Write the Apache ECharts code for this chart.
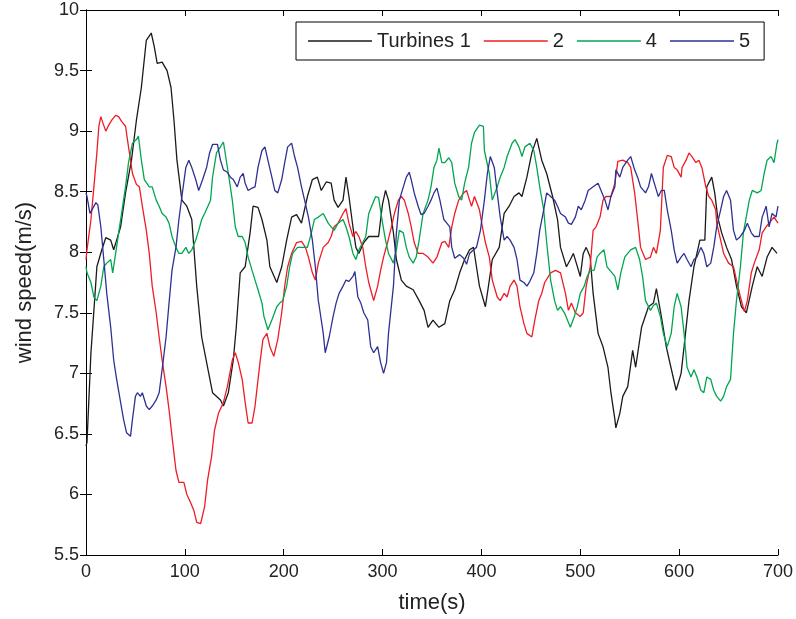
<!DOCTYPE html>
<html><head><meta charset="utf-8">
<script src="https://cdn.jsdelivr.net/npm/echarts@6/dist/echarts.min.js"></script>
<style>html,body{margin:0;padding:0;background:#fff}#c{width:796px;height:619px}</style>
</head><body><div id="c"></div>
<script>
const seriesNames = ['Turbines 1', '2', '4', '5'];
const xTicks = [0, 100, 200, 300, 400, 500, 600, 700];
const yTicks = [5.5, 6, 6.5, 7, 7.5, 8, 8.5, 9, 9.5, 10];

const turbine1 = [[0,6.4],[1,6.43],[5,7.17],[8,7.52],[11,7.88],[16,8.02],[20,8.12],[25,8.1],[28,8.02],[31,8.1],[35,8.21],[40,8.49],[46,8.76],[51,9.09],[56,9.36],[61,9.75],[66,9.81],[69,9.7],[72,9.56],[77,9.57],[82,9.5],[86,9.36],[89,9.09],[92,8.76],[97,8.43],[102,8.38],[107,8.27],[112,7.72],[117,7.3],[122,7.09],[128,6.84],[136,6.78],[139,6.73],[144,6.84],[149,7.11],[152,7.38],[156,7.83],[161,7.88],[166,8.16],[169,8.38],[174,8.37],[178,8.27],[183,8.1],[186,7.88],[193,7.75],[198,7.88],[203,8.1],[208,8.29],[213,8.31],[218,8.24],[224,8.46],[229,8.6],[234,8.62],[238,8.51],[243,8.58],[248,8.57],[251,8.43],[255,8.37],[260,8.43],[263,8.62],[266,8.46],[270,8.21],[273,8.04],[276,7.99],[281,8.08],[286,8.13],[291,8.13],[296,8.13],[300,8.4],[303,8.51],[306,8.43],[311,8.16],[314,7.94],[319,7.77],[324,7.72],[331,7.69],[337,7.6],[342,7.52],[346,7.38],[351,7.44],[357,7.38],[363,7.41],[368,7.6],[373,7.69],[378,7.83],[383,7.94],[388,8.02],[392,8.04],[395,7.88],[398,7.72],[404,7.55],[408,7.77],[411,7.94],[418,8.04],[423,8.32],[428,8.38],[433,8.46],[438,8.49],[441,8.46],[446,8.62],[451,8.82],[456,8.94],[461,8.76],[466,8.65],[472,8.46],[477,8.27],[480,8.04],[486,7.88],[490,7.94],[493,7.99],[496,7.91],[500,7.8],[503,7.99],[506,8.04],[510,7.96],[513,7.66],[518,7.33],[523,7.22],[528,7.05],[531,6.84],[535,6.62],[536,6.55],[540,6.67],[543,6.81],[548,6.89],[553,7.19],[556,7.05],[562,7.38],[569,7.55],[574,7.58],[577,7.7],[582,7.47],[587,7.22],[590,7.11],[597,6.86],[602,7.0],[605,7.22],[610,7.6],[615,7.88],[621,8.1],[626,8.1],[628,8.54],[633,8.62],[636,8.49],[639,8.29],[643,8.16],[648,8.04],[653,7.94],[658,7.72],[663,7.55],[668,7.5],[674,7.72],[679,7.88],[684,7.8],[689,7.96],[694,8.04],[699,7.99]];

const turbine2 = [[0,7.94],[1,8.02],[5,8.27],[8,8.54],[11,8.82],[13,9.04],[15,9.12],[17,9.07],[20,9.0],[23,9.05],[26,9.09],[30,9.13],[33,9.12],[36,9.08],[40,9.04],[43,8.87],[47,8.65],[51,8.56],[54,8.54],[57,8.38],[61,8.18],[64,7.99],[67,7.72],[71,7.5],[74,7.3],[77,7.11],[81,6.89],[84,6.7],[87,6.48],[91,6.2],[94,6.1],[99,6.1],[102,6.0],[106,5.93],[109,5.87],[112,5.77],[116,5.76],[120,5.9],[123,6.12],[127,6.31],[130,6.53],[134,6.67],[139,6.76],[143,6.89],[148,7.11],[151,7.17],[154,7.09],[158,6.95],[161,6.76],[164,6.59],[168,6.59],[171,6.73],[176,7.09],[179,7.28],[183,7.33],[186,7.22],[190,7.14],[194,7.28],[198,7.5],[201,7.72],[204,7.88],[208,7.99],[213,8.08],[218,8.09],[222,8.04],[225,7.96],[229,7.83],[232,7.77],[235,7.91],[240,8.04],[245,8.08],[248,8.13],[251,8.21],[255,8.24],[260,8.32],[263,8.36],[266,8.24],[270,8.13],[273,8.17],[276,8.13],[280,8.04],[283,7.88],[286,7.75],[291,7.6],[295,7.72],[298,7.85],[301,7.96],[305,8.08],[309,8.21],[312,8.32],[316,8.43],[319,8.46],[322,8.43],[326,8.32],[329,8.21],[332,8.08],[336,7.99],[341,7.99],[346,7.96],[351,7.91],[355,7.96],[360,8.08],[363,8.09],[367,8.04],[370,8.21],[373,8.32],[377,8.43],[382,8.49],[385,8.51],[388,8.43],[390,8.38],[393,8.46],[398,8.35],[401,8.21],[404,8.08],[408,7.96],[411,7.77],[416,7.63],[419,7.6],[423,7.66],[426,7.63],[429,7.72],[433,7.77],[436,7.72],[439,7.55],[443,7.41],[446,7.33],[451,7.3],[454,7.44],[458,7.6],[461,7.66],[464,7.75],[470,7.83],[475,7.85],[480,7.83],[485,7.66],[488,7.52],[491,7.58],[495,7.5],[500,7.47],[503,7.5],[506,7.72],[510,7.88],[513,8.18],[516,8.21],[520,8.29],[523,8.43],[526,8.46],[531,8.46],[535,8.57],[538,8.75],[543,8.76],[548,8.74],[551,8.7],[555,8.49],[558,8.27],[561,8.04],[566,7.94],[571,7.96],[574,8.04],[577,7.99],[581,8.18],[584,8.7],[588,8.8],[592,8.79],[595,8.7],[598,8.68],[602,8.62],[603,8.7],[607,8.76],[610,8.82],[613,8.79],[617,8.74],[620,8.76],[623,8.7],[627,8.54],[630,8.46],[633,8.43],[637,8.35],[638,8.24],[642,8.1],[645,7.99],[650,7.91],[655,7.88],[658,7.77],[662,7.63],[666,7.51],[669,7.6],[673,7.83],[676,7.91],[681,8.02],[684,8.16],[688,8.21],[691,8.24],[696,8.29],[700,8.24]];

const turbine4 = [[0,7.88],[1,7.83],[5,7.75],[8,7.63],[11,7.6],[15,7.72],[18,7.88],[21,7.91],[25,7.94],[27,7.83],[30,7.99],[33,8.16],[36,8.32],[40,8.54],[43,8.74],[47,8.9],[51,8.93],[53,8.96],[56,8.76],[59,8.6],[64,8.54],[67,8.54],[71,8.43],[74,8.38],[77,8.32],[81,8.29],[84,8.24],[87,8.13],[91,8.04],[94,7.99],[97,7.99],[101,8.04],[104,7.99],[107,8.02],[111,8.1],[114,8.18],[117,8.27],[120,8.32],[126,8.43],[128,8.62],[132,8.82],[136,8.87],[139,8.91],[144,8.65],[148,8.43],[151,8.21],[154,8.13],[158,8.13],[161,8.08],[164,7.96],[168,7.85],[171,7.77],[174,7.69],[178,7.58],[180,7.47],[184,7.36],[188,7.44],[193,7.55],[196,7.58],[199,7.6],[203,7.72],[206,7.88],[209,7.99],[214,8.04],[219,8.04],[224,8.04],[228,8.16],[231,8.27],[235,8.29],[240,8.32],[245,8.24],[248,8.21],[251,8.18],[255,8.24],[260,8.27],[263,8.21],[266,8.13],[270,7.99],[273,7.94],[276,8.02],[280,8.08],[283,8.13],[286,8.32],[290,8.4],[293,8.46],[296,8.45],[300,8.24],[303,8.1],[306,7.99],[311,7.91],[314,8.02],[317,8.18],[321,8.16],[324,8.04],[327,7.96],[331,7.91],[334,7.96],[337,8.1],[341,8.32],[346,8.43],[349,8.54],[352,8.7],[355,8.76],[357,8.86],[360,8.74],[363,8.74],[367,8.78],[370,8.74],[373,8.57],[377,8.46],[380,8.43],[383,8.57],[387,8.7],[390,8.9],[393,8.99],[398,9.05],[402,9.04],[403,8.84],[408,8.65],[411,8.43],[416,8.54],[419,8.62],[423,8.7],[426,8.79],[431,8.9],[434,8.93],[438,8.87],[441,8.79],[444,8.87],[449,8.9],[453,8.84],[456,8.7],[459,8.54],[463,8.35],[466,8.08],[470,7.77],[474,7.6],[477,7.52],[480,7.55],[484,7.5],[487,7.44],[490,7.38],[494,7.47],[497,7.55],[500,7.66],[504,7.72],[507,7.8],[510,7.85],[514,7.85],[517,7.96],[520,7.99],[524,8.02],[527,7.88],[530,7.85],[535,7.8],[538,7.69],[541,7.83],[545,7.96],[548,7.99],[551,8.02],[556,8.04],[560,7.94],[563,7.8],[566,7.6],[571,7.52],[574,7.56],[577,7.58],[581,7.47],[584,7.33],[588,7.22],[592,7.33],[595,7.55],[598,7.66],[602,7.55],[605,7.33],[608,7.05],[612,6.97],[615,7.03],[618,6.97],[622,6.86],[625,6.84],[628,6.97],[632,6.95],[635,6.86],[638,6.81],[642,6.77],[645,6.81],[648,6.89],[652,6.95],[655,7.33],[658,7.6],[662,7.88],[665,8.16],[671,8.43],[674,8.51],[679,8.49],[683,8.51],[686,8.65],[689,8.76],[693,8.79],[696,8.74],[699,8.9],[700,8.93]];

const turbine5 = [[0,8.49],[1,8.46],[4,8.32],[6,8.35],[10,8.41],[12,8.39],[15,8.21],[18,7.94],[21,7.66],[25,7.38],[28,7.11],[31,6.95],[35,6.76],[38,6.62],[41,6.51],[45,6.48],[47,6.62],[50,6.81],[52,6.84],[55,6.81],[57,6.84],[61,6.73],[64,6.7],[67,6.73],[71,6.78],[74,6.84],[77,7.03],[81,7.3],[84,7.58],[87,7.85],[91,8.04],[94,8.27],[97,8.46],[101,8.7],[104,8.76],[107,8.7],[111,8.6],[114,8.51],[118,8.6],[122,8.7],[125,8.82],[128,8.89],[133,8.89],[136,8.76],[139,8.68],[143,8.66],[146,8.62],[149,8.6],[153,8.54],[156,8.62],[159,8.65],[161,8.57],[164,8.51],[168,8.53],[171,8.54],[174,8.7],[178,8.84],[181,8.87],[184,8.76],[188,8.62],[191,8.51],[194,8.49],[198,8.6],[201,8.74],[204,8.87],[208,8.9],[211,8.79],[214,8.7],[218,8.54],[222,8.4],[225,8.29],[229,8.1],[232,7.88],[235,7.6],[236,7.55],[240,7.33],[242,7.17],[246,7.3],[250,7.47],[253,7.58],[256,7.66],[260,7.72],[263,7.77],[266,7.76],[270,7.8],[272,7.84],[275,7.63],[278,7.58],[281,7.5],[285,7.44],[288,7.22],[291,7.17],[295,7.22],[298,7.09],[301,7.0],[304,7.09],[306,7.33],[311,7.72],[314,8.16],[317,8.43],[321,8.54],[324,8.62],[327,8.66],[329,8.6],[332,8.49],[336,8.38],[339,8.31],[342,8.32],[346,8.38],[349,8.43],[352,8.49],[355,8.53],[358,8.43],[362,8.27],[365,8.24],[368,8.21],[370,8.04],[373,7.95],[378,7.98],[382,7.95],[385,7.9],[388,7.99],[392,8.02],[395,8.04],[399,8.18],[403,8.43],[406,8.65],[409,8.79],[413,8.7],[416,8.49],[419,8.29],[423,8.1],[426,8.13],[429,8.1],[433,8.04],[436,7.94],[439,7.77],[443,7.75],[446,7.72],[449,7.76],[453,7.83],[456,7.99],[459,8.18],[463,8.35],[466,8.49],[470,8.46],[474,8.43],[477,8.38],[480,8.32],[485,8.29],[488,8.24],[491,8.23],[495,8.29],[498,8.38],[501,8.35],[505,8.43],[508,8.51],[513,8.54],[518,8.57],[521,8.51],[525,8.43],[528,8.35],[531,8.46],[535,8.54],[536,8.68],[540,8.62],[543,8.7],[548,8.76],[551,8.79],[555,8.68],[558,8.62],[561,8.54],[566,8.49],[569,8.54],[572,8.65],[576,8.54],[579,8.46],[582,8.51],[585,8.51],[588,8.35],[592,8.18],[595,8.02],[598,7.91],[602,7.96],[605,7.99],[608,7.94],[612,7.88],[615,7.94],[618,7.96],[622,8.04],[625,7.99],[628,7.88],[632,7.91],[635,8.04],[638,8.21],[642,8.35],[645,8.46],[648,8.51],[652,8.43],[655,8.18],[658,8.1],[662,8.13],[666,8.18],[669,8.24],[673,8.16],[676,8.13],[681,8.13],[684,8.29],[688,8.38],[691,8.21],[694,8.32],[698,8.29],[700,8.38]];

const colors = ['#1a1a1a', '#ee1c25', '#00a650', '#2e3192'];
const allData = [turbine1, turbine2, turbine4, turbine5];

const FONT = 'Liberation Sans, Arial, Helvetica, sans-serif';
const chart = echarts.init(document.getElementById('c'), null, {renderer: 'canvas'});

const baseAxisLine = {show: true, lineStyle: {color: '#000', width: 1}};
const tick = {show: true, inside: true, length: 6, lineStyle: {color: '#000', width: 1}};

chart.setOption({
  animation: false,
  backgroundColor: '#fff',
  color: colors,
  grid: {left: 86, right: 18, top: 10, bottom: 63, containLabel: false},
  legend: {
    data: seriesNames,
    left: 296, top: 22,
    padding: [9, 14, 9, 12],
    itemGap: 13,
    itemWidth: 64, itemHeight: 1.5,
    icon: 'rect',
    borderColor: '#000', borderWidth: 1,
    backgroundColor: '#fff',
    textStyle: {fontFamily: FONT, fontSize: 20, color: '#222'}
  },
  xAxis: [{
    type: 'value', min: xTicks[0], max: xTicks[xTicks.length - 1], interval: 100,
    position: 'bottom',
    axisLine: baseAxisLine, axisTick: tick, splitLine: {show: false},
    axisLabel: {fontFamily: FONT, fontSize: 18, color: '#222', margin: 8},
    name: 'time(s)', nameLocation: 'middle', nameGap: 37,
    nameTextStyle: {fontFamily: FONT, fontSize: 22, color: '#222'}
  }, {
    type: 'value', min: xTicks[0], max: xTicks[xTicks.length - 1], interval: 100,
    position: 'top',
    axisLine: baseAxisLine, axisTick: tick, splitLine: {show: false},
    axisLabel: {show: false}
  }],
  yAxis: [{
    type: 'value', min: yTicks[0], max: yTicks[yTicks.length - 1], interval: 0.5,
    position: 'left',
    axisLine: baseAxisLine, axisTick: tick, splitLine: {show: false},
    axisLabel: {fontFamily: FONT, fontSize: 18, color: '#222', margin: 7},
    name: 'wind speed(m/s)', nameLocation: 'middle', nameGap: 50,
    nameTextStyle: {fontFamily: FONT, fontSize: 22, color: '#222'}
  }, {
    type: 'value', min: yTicks[0], max: yTicks[yTicks.length - 1], interval: 0.5,
    position: 'right',
    axisLine: baseAxisLine, axisTick: tick, splitLine: {show: false},
    axisLabel: {show: false}
  }],
  series: seriesNames.map((n, i) => ({
    name: n, type: 'line', data: allData[i],
    showSymbol: false, symbol: 'none', clip: true,
    lineStyle: {color: colors[i], width: 1.3},
    itemStyle: {color: colors[i]},
    z: 2 + i
  }))
});
</script></body></html>
